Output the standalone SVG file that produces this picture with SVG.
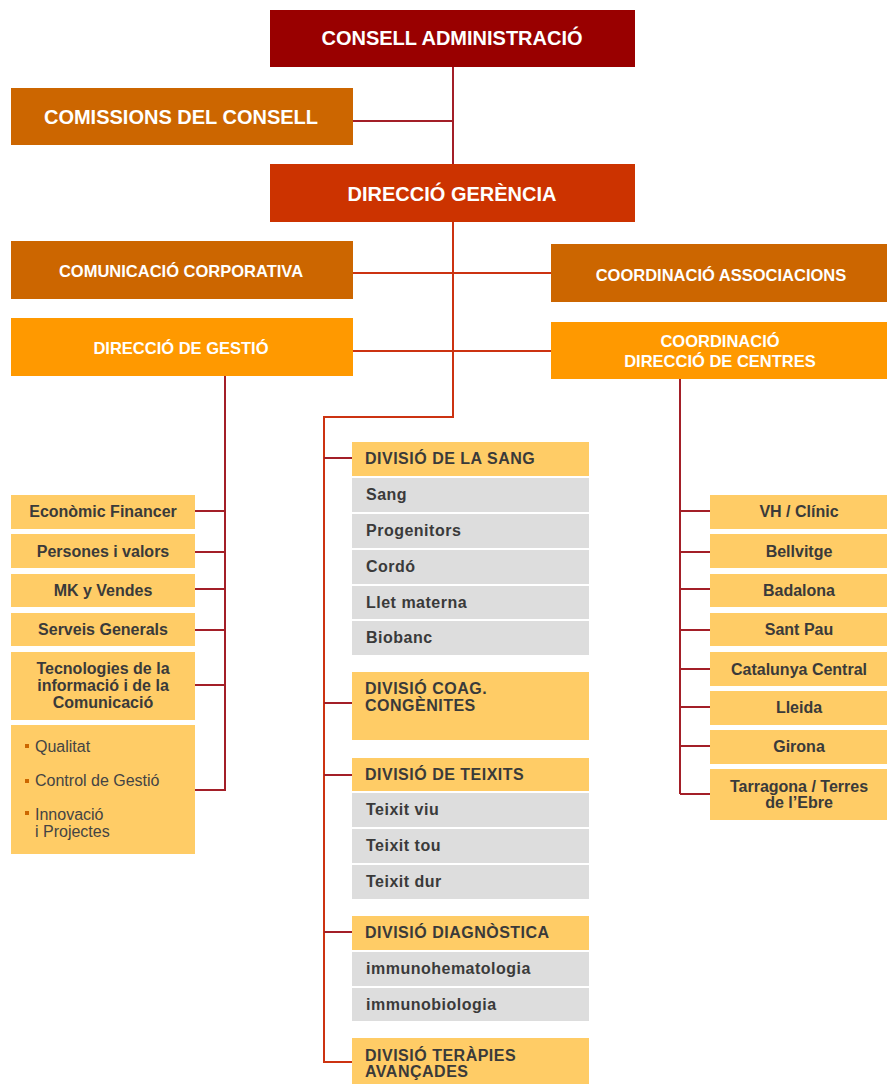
<svg xmlns="http://www.w3.org/2000/svg" width="887" height="1084" viewBox="0 0 887 1084">
<style>
  .top{font-family:"Liberation Sans",Arial,sans-serif;font-weight:bold;fill:#FFFFFF;text-anchor:middle}
  .t1{font-size:20px}
  .t2{font-size:16.5px}
  .lt{font-family:"Liberation Sans",Arial,sans-serif;font-weight:bold;font-size:16px;fill:#3A3A3A}
  .mid{letter-spacing:0.5px}
  .ctr{text-anchor:middle}
  .reg{font-family:"Liberation Sans",Arial,sans-serif;font-size:16px;fill:#444444}
  .yel{fill:#FFCC66}
  .gry{fill:#DDDDDD}
  .dark{stroke:#A31F28;stroke-width:2;fill:none}
  .trunk{stroke:#CC3311;stroke-width:2;fill:none}
  .bul{fill:#CC6600}
</style>

<g id="connectors">
  <path class="dark" d="M453 67 V164 M353 121 H453"/>
  <path class="trunk" d="M453 222 V417 H324 V1062 H352 M353 273 H551 M353 351 H551"/>
  <path class="dark" d="M225 376 V791 M195 511 H225 M195 552 H225 M195 589 H225 M195 630 H225 M195 685 H225 M195 790 H225"/>
  <path class="dark" d="M680 379 V794 M680 511 H710 M680 552 H710 M680 589 H710 M680 630 H710 M680 669 H710 M680 707 H710 M680 746 H710 M680 794 H710"/>
  <path class="dark" d="M324 458 H352 M324 703 H352 M324 775 H352 M324 932 H352"/>
</g>

<g id="consell">
  <rect x="270" y="10" width="365" height="57" fill="#990000"/>
  <text class="top t1" x="452" y="44.5">CONSELL ADMINISTRACIÓ</text>
</g>
<g id="comissions">
  <rect x="11" y="88" width="342" height="57" fill="#CC6600"/>
  <text class="top t1" x="181" y="123.5">COMISSIONS DEL CONSELL</text>
</g>
<g id="gerencia">
  <rect x="270" y="164" width="365" height="58" fill="#CC3300"/>
  <text class="top t1" x="452" y="200.5">DIRECCIÓ GERÈNCIA</text>
</g>
<g id="comunicacio">
  <rect x="11" y="241" width="342" height="58" fill="#CC6600"/>
  <text class="top t2" x="181" y="277">COMUNICACIÓ CORPORATIVA</text>
</g>
<g id="associacions">
  <rect x="551" y="244" width="336" height="58" fill="#CC6600"/>
  <text class="top t2" x="721" y="281">COORDINACIÓ ASSOCIACIONS</text>
</g>
<g id="gestio">
  <rect x="11" y="318" width="342" height="58" fill="#FF9900"/>
  <text class="top t2" x="181" y="354">DIRECCIÓ DE GESTIÓ</text>
</g>
<g id="centres">
  <rect x="551" y="322" width="336" height="57" fill="#FF9900"/>
  <text class="top t2" x="720" y="347">COORDINACIÓ</text>
  <text class="top t2" x="720" y="367">DIRECCIÓ DE CENTRES</text>
</g>

<g id="economic">
  <rect class="yel" x="11" y="495" width="184" height="34"/>
  <text class="lt ctr" x="103" y="517">Econòmic Financer</text>
</g>
<g id="persones">
  <rect class="yel" x="11" y="534" width="184" height="34"/>
  <text class="lt ctr" x="103" y="556.5">Persones i valors</text>
</g>
<g id="mk">
  <rect class="yel" x="11" y="574" width="184" height="33"/>
  <text class="lt ctr" x="103" y="596">MK y Vendes</text>
</g>
<g id="serveis">
  <rect class="yel" x="11" y="613" width="184" height="33"/>
  <text class="lt ctr" x="103" y="635">Serveis Generals</text>
</g>
<g id="tecnologies">
  <rect class="yel" x="11" y="652" width="184" height="68"/>
  <text class="lt ctr" x="103" y="674">Tecnologies de la</text>
  <text class="lt ctr" x="103" y="691">informació i de la</text>
  <text class="lt ctr" x="103" y="708">Comunicació</text>
</g>
<g id="qualitat">
  <rect class="yel" x="11" y="725" width="184" height="129"/>
  <rect class="bul" x="25" y="744" width="4" height="4"/>
  <text class="reg" x="35" y="752">Qualitat</text>
  <rect class="bul" x="25" y="779" width="4" height="4"/>
  <text class="reg" x="35" y="786">Control de Gestió</text>
  <rect class="bul" x="25" y="811" width="4" height="4"/>
  <text class="reg" x="35" y="820">Innovació</text>
  <text class="reg" x="35" y="837">i Projectes</text>
</g>

<g id="sang">
  <rect class="yel" x="352" y="442" width="237" height="34"/>
  <text class="lt mid" x="365" y="464">DIVISIÓ DE LA SANG</text>
  <rect class="gry" x="352" y="478" width="237" height="34"/>
  <text class="lt mid" x="366" y="500">Sang</text>
  <rect class="gry" x="352" y="514" width="237" height="34"/>
  <text class="lt mid" x="366" y="536">Progenitors</text>
  <rect class="gry" x="352" y="550" width="237" height="34"/>
  <text class="lt mid" x="366" y="572">Cordó</text>
  <rect class="gry" x="352" y="586" width="237" height="33"/>
  <text class="lt mid" x="366" y="608">Llet materna</text>
  <rect class="gry" x="352" y="621" width="237" height="34"/>
  <text class="lt mid" x="366" y="643">Biobanc</text>
</g>
<g id="coag">
  <rect class="yel" x="352" y="672" width="237" height="68"/>
  <text class="lt mid" x="365" y="694">DIVISIÓ COAG.</text>
  <text class="lt mid" x="365" y="711">CONGÈNITES</text>
</g>
<g id="teixits">
  <rect class="yel" x="352" y="758" width="237" height="33"/>
  <text class="lt mid" x="365" y="780">DIVISIÓ DE TEIXITS</text>
  <rect class="gry" x="352" y="793" width="237" height="34"/>
  <text class="lt mid" x="366" y="815">Teixit viu</text>
  <rect class="gry" x="352" y="829" width="237" height="34"/>
  <text class="lt mid" x="366" y="851">Teixit tou</text>
  <rect class="gry" x="352" y="865" width="237" height="34"/>
  <text class="lt mid" x="366" y="887">Teixit dur</text>
</g>
<g id="diagnostica">
  <rect class="yel" x="352" y="916" width="237" height="34"/>
  <text class="lt mid" x="365" y="938">DIVISIÓ DIAGNÒSTICA</text>
  <rect class="gry" x="352" y="952" width="237" height="34"/>
  <text class="lt mid" x="366" y="974">immunohematologia</text>
  <rect class="gry" x="352" y="988" width="237" height="33"/>
  <text class="lt mid" x="366" y="1010">immunobiologia</text>
</g>
<g id="terapies">
  <rect class="yel" x="352" y="1038" width="237" height="50"/>
  <text class="lt mid" x="365" y="1061">DIVISIÓ TERÀPIES</text>
  <text class="lt mid" x="365" y="1077">AVANÇADES</text>
</g>

<g id="vh">
  <rect class="yel" x="710" y="495" width="177" height="34"/>
  <text class="lt ctr" x="799" y="517">VH / Clínic</text>
</g>
<g id="bellvitge">
  <rect class="yel" x="710" y="534" width="177" height="34"/>
  <text class="lt ctr" x="799" y="556.5">Bellvitge</text>
</g>
<g id="badalona">
  <rect class="yel" x="710" y="574" width="177" height="33"/>
  <text class="lt ctr" x="799" y="596">Badalona</text>
</g>
<g id="santpau">
  <rect class="yel" x="710" y="613" width="177" height="33"/>
  <text class="lt ctr" x="799" y="635">Sant Pau</text>
</g>
<g id="catalunya">
  <rect class="yel" x="710" y="652" width="177" height="34"/>
  <text class="lt ctr" x="799" y="674.5">Catalunya Central</text>
</g>
<g id="lleida">
  <rect class="yel" x="710" y="691" width="177" height="34"/>
  <text class="lt ctr" x="799" y="713">Lleida</text>
</g>
<g id="girona">
  <rect class="yel" x="710" y="730" width="177" height="34"/>
  <text class="lt ctr" x="799" y="752">Girona</text>
</g>
<g id="tarragona">
  <rect class="yel" x="710" y="769" width="177" height="51"/>
  <text class="lt ctr" x="799" y="792">Tarragona / Terres</text>
  <text class="lt ctr" x="799" y="808">de l’Ebre</text>
</g>
</svg>
